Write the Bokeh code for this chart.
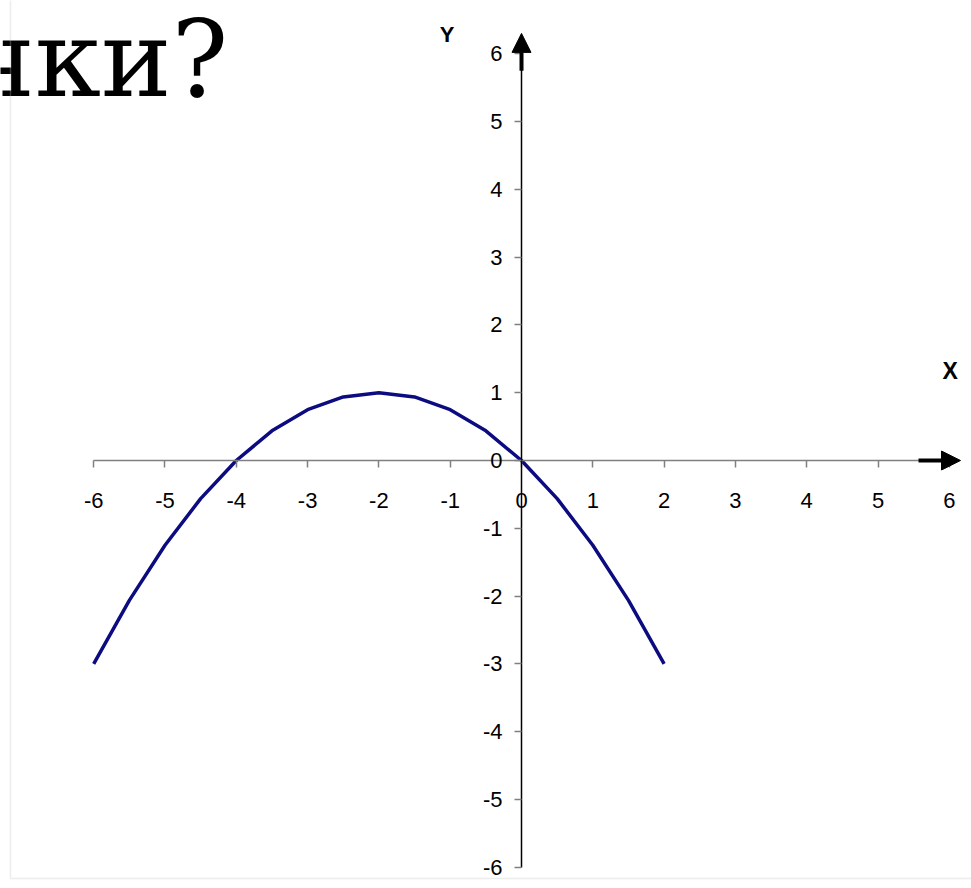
from bokeh.plotting import figure
from bokeh.models import (Range1d, LinearAxis, FixedTicker, Arrow, NormalHead,
                          Label, BoxAnnotation)
from bokeh.embed import file_html
from bokeh.resources import INLINE

x_vals = [-6, -5.5, -5, -4.5, -4, -3.5, -3, -2.5, -2, -1.5, -1, -0.5, 0, 0.5, 1, 1.5, 2]
y_vals = [-3, -2.0625, -1.25, -0.5625, 0, 0.4375, 0.75, 0.9375, 1, 0.9375, 0.75, 0.4375,
          0, -0.5625, -1.25, -2.0625, -3]
x_ticks = [-6, -5, -4, -3, -2, -1, 0, 1, 2, 3, 4, 5, 6]
y_ticks = [-6, -5, -4, -3, -2, -1, 0, 1, 2, 3, 4, 5, 6]
x_tick_labels = ["-6", "-5", "-4", "-3", "-2", "-1", "0", "1", "2", "3", "4", "5", "6"]
y_tick_labels = ["-6", "-5", "-4", "-3", "-2", "-1", "0", "1", "2", "3", "4", "5", "6"]
title_text = "чки?"

W, H = 971, 888
p = figure(width=W, height=H, output_backend="svg", toolbar_location=None,
           x_axis_type=None, y_axis_type=None, min_border=0,
           x_range=Range1d(-7.307, 6.311), y_range=Range1d(-6.313, 6.785))
p.outline_line_color = None
p.grid.visible = False
p.background_fill_color = "white"
p.border_fill_color = "white"

xa = LinearAxis(fixed_location=0, ticker=FixedTicker(ticks=x_ticks), bounds=(-6, 6))
xa.major_label_overrides = {t: s for t, s in zip(x_ticks, x_tick_labels)}
xa.axis_line_color = "#808080"
xa.axis_line_width = 1.5
xa.major_tick_line_color = "#808080"
xa.major_tick_line_width = 1.5
xa.major_tick_in = 0
xa.major_tick_out = 7
xa.minor_tick_line_color = None
xa.major_label_text_font = "Liberation Sans"
xa.major_label_text_font_size = "22px"
xa.major_label_text_color = "black"
xa.major_label_standoff = 25
p.add_layout(xa, "below")

ya = LinearAxis(fixed_location=0, ticker=FixedTicker(ticks=y_ticks), bounds=(-6, 6))
ya.major_label_overrides = {t: s for t, s in zip(y_ticks, y_tick_labels)}
ya.axis_line_color = "black"
ya.axis_line_width = 1.5
ya.major_tick_line_color = "#808080"
ya.major_tick_line_width = 1.5
ya.major_tick_in = 0
ya.major_tick_out = 7
ya.minor_tick_line_color = None
ya.major_label_text_font = "Liberation Sans"
ya.major_label_text_font_size = "22px"
ya.major_label_text_color = "black"
ya.major_label_standoff = 12
p.add_layout(ya, "left")

p.line(x_vals, y_vals, line_color="#0c0c80", line_width=3.5)

p.add_layout(Arrow(end=NormalHead(size=19, fill_color="black", line_color="black"),
                   x_start=0, y_start=5.75, x_end=0, y_end=6.30,
                   line_color="black", line_width=4))
p.add_layout(Arrow(end=NormalHead(size=19, fill_color="black", line_color="black"),
                   x_start=5.568, y_start=0.0, x_end=6.157, y_end=0.0,
                   line_color="black", line_width=4))

p.add_layout(Label(x=-1.045, y=6.29, text="Y", text_font="Liberation Sans",
                   text_font_style="bold", text_font_size="22px", text_color="black",
                   text_align="center", text_baseline="middle"))
p.add_layout(Label(x=6.013, y=1.313, text="X", text_font="Liberation Sans",
                   text_font_style="bold", text_font_size="23px", text_color="black",
                   text_align="center", text_baseline="middle"))

p.add_layout(Label(x=-4.11, y=5.91, text=title_text, text_font="DejaVu Serif",
                   text_font_size="106px", text_align="right",
                   text_baseline="alphabetic", text_color="black"))

p.add_layout(BoxAnnotation(left=10, top=10, right=5000, bottom=5000,
                           left_units="screen", top_units="screen",
                           right_units="screen", bottom_units="screen",
                           fill_color=None, line_color="#c4c4c4", line_width=1.5))

open("out.html", "w").write(file_html(p, INLINE))
